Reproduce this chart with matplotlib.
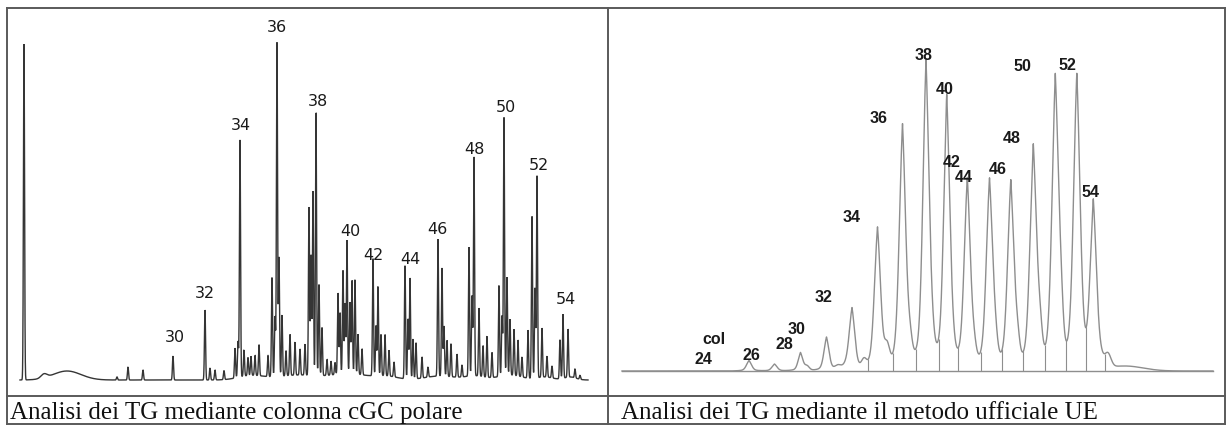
import numpy as np
import matplotlib
matplotlib.use("Agg")
import matplotlib.pyplot as plt
from matplotlib.lines import Line2D

# ------------------------------------------------------------------
# DATA (retention and response in arbitrary units)
# ------------------------------------------------------------------
# Left: TG analysis on polar cGC column - sharp peaks
cgc_rt = [24, 117, 128, 143, 173,
          205, 210, 215, 224,
          235, 238, 240, 244, 248, 251, 255, 259,
          268, 272, 275, 277, 279, 282, 286, 290, 295, 300,
          305, 309, 311, 313, 316, 319, 322, 327, 331, 335,
          338, 340, 343, 345, 347, 350, 352, 355, 358, 362,
          373, 376, 378, 381, 385, 389, 394,
          405, 408, 410, 413, 416, 422, 428,
          438, 442, 444, 447, 451, 457, 462,
          469, 472, 474, 479, 483, 487, 492,
          499, 502, 504, 507, 510, 514, 518, 522,
          528, 532, 535, 537, 542, 547, 552,
          560, 563, 568, 575, 580]
cgc_height = [336, 3, 13, 10, 24,
              70, 12, 10, 9,
              30, 36, 237, 26, 18, 19, 20, 31,
              21, 99, 60, 334, 119, 61, 25, 41, 33, 26,
              31, 168, 120, 184, 263, 91, 48, 16, 14, 12,
              81, 61, 103, 70, 133, 71, 93, 94, 40, 26,
              117, 50, 89, 41, 41, 26, 15,
              113, 60, 101, 40, 36, 21, 10,
              137, 108, 50, 36, 33, 23, 12,
              129, 80, 219, 68, 31, 41, 25,
              91, 60, 258, 98, 56, 46, 36, 20,
              48, 162, 90, 202, 49, 21, 12,
              39, 64, 48, 9, 4]
# broad unresolved humps under the left trace: centre, height, width
cgc_hump_rt = [44, 67, 250, 300, 350, 385, 440, 475, 510, 545, 570]
cgc_hump_h = [4, 9, 4, 5, 6, 4, 4, 4, 5, 3, 3]
cgc_hump_w = [3, 14, 12, 25, 15, 12, 15, 10, 12, 8, 6]
cgc_labels = ["30", "32", "34", "36", "38", "40", "42", "44", "46", "48", "50", "52", "54"]
cgc_label_rt = [175, 205, 241, 277, 318, 350, 373, 410, 437, 474, 506, 539, 566]
cgc_label_resp = [44, 88, 255, 353, 280, 149, 126, 121, 152, 231, 273, 215, 81]

# Right: TG analysis with the official EU method - broad peaks
ue_rt = [749, 774.5, 800.5, 826.5, 852, 877.5, 902.5, 926, 946.7, 967.3,
         989.5, 1010.8, 1033.3, 1055.3, 1076.8, 1093.3]
ue_height = [10.5, 7, 18.5, 34, 63, 144, 247, 310, 274, 192,
             192, 190, 226, 295, 295, 167]
ue_width = [2.6, 2.6, 2.4, 2.6, 2.9, 3.2, 3.3, 3.2, 3.1, 3.2,
            3.3, 3.3, 3.4, 3.4, 3.4, 3.2]
# shoulders / tails: centre, height, width
ue_sh_rt = [807, 838, 846, 864, 887, 910, 932, 952, 974, 995.5, 1017.5, 1040, 1061, 1100, 1108, 1125]
ue_sh_h = [4, 4, 3, 8, 18, 16, 12, 12, 12, 14, 18, 24, 32, 6, 12, 5]
ue_sh_w = [2.2, 3, 3, 2.5, 2.5, 2.2, 2.2, 2.5, 2.2, 2.2, 2.2, 2.2, 2.2, 3, 3, 18]
# valley drop lines
ue_valley_rt = [868, 892.7, 915.5, 938.5, 958.4, 980.5, 1002.3, 1023.3, 1045, 1066, 1085.5, 1105]
ue_labels = ["col", "24", "26", "28", "30", "32", "34", "36", "38", "40", "42", "44",
             "46", "48", "50", "52", "54"]
ue_label_rt = [713.5, 703.3, 751, 784, 796.2, 823.4, 852, 878.5, 923.8, 944.6, 951.7,
               964, 997.8, 1011.4, 1022, 1067.6, 1091]
ue_label_resp = [32, 12.7, 17, 27.7, 43, 74.3, 154.7, 253.7, 317, 282, 209.3,
                 195, 202, 233.7, 305.3, 306.7, 179.5]

captions = ["Analisi dei TG mediante colonna cGC polare",
            "Analisi dei TG mediante il metodo ufficiale UE"]

# ------------------------------------------------------------------
W, H = 1227, 427
fig = plt.figure(figsize=(W / 100, H / 100), dpi=100)
fig.patch.set_facecolor("white")


def rect(x0, y0, x1, y1):
    return [x0 / W, 1 - y1 / H, (x1 - x0) / W, (y1 - y0) / H]


def gauss(x, c, h, s):
    return h * np.exp(-0.5 * ((x - c) / s) ** 2)


def peak(x, c, h, s):
    # chromatographic peak: mostly Gaussian with an exponential skirt
    return h * (0.7 * np.exp(-0.5 * ((x - c) / s) ** 2) + 0.3 * np.exp(-np.abs(x - c) / s))


# ---------------- left panel ----------------
axL = fig.add_axes(rect(8, 10, 607, 396))
axL.set_xlim(8, 607)
axL.set_ylim(-15, 371)
axL.axis("off")
xl = np.linspace(20, 588, 8000)
yl = np.zeros_like(xl)
for c, h in zip(cgc_rt, cgc_height):
    yl += gauss(xl, c, h, 0.55)
for c, h, s in zip(cgc_hump_rt, cgc_hump_h, cgc_hump_w):
    yl += gauss(xl, c, h, s)
axL.plot(xl, yl, color="#353535", lw=1.0, solid_joinstyle="miter")
for t, x, y in zip(cgc_labels, cgc_label_rt, cgc_label_resp):
    axL.text(x, y, t, ha="center", va="center", fontsize=11.5,
             family="DejaVu Sans", color="#1a1a1a")

# ---------------- right panel ----------------
axR = fig.add_axes(rect(609, 10, 1224, 396))
axR.set_xlim(609, 1224)
axR.set_ylim(-24, 362)
axR.axis("off")
xr = np.linspace(622, 1213, 10000)
yr = np.zeros_like(xr)
for c, h, s in zip(ue_rt, ue_height, ue_width):
    yr += peak(xr, c, 0.93 * h, s) + gauss(xr, c, 0.07 * h, 8.5)
for c, h, s in zip(ue_sh_rt, ue_sh_h, ue_sh_w):
    yr += gauss(xr, c, h, s)
grey = "#8e8e8e"
axR.plot(xr, yr, color=grey, lw=1.0)
axR.plot([xr[0], xr[-1]], [0, 0], color=grey, lw=1.0)
yv = np.interp(ue_valley_rt, xr, yr)
axR.vlines(ue_valley_rt, 0, yv, color=grey, lw=0.8)
for t, x, y in zip(ue_labels, ue_label_rt, ue_label_resp):
    axR.text(x, y, t, ha="center", va="center", fontsize=11.5,
             family="Liberation Sans", fontweight="bold", color="#1a1a1a")

# ---------------- table frame and captions ----------------
lc = "#5a5a5a"
for (x0, y0, x1, y1) in [(7, 9, 1225, 9), (7, 425, 1225, 425), (7, 9, 7, 425),
                         (1225, 9, 1225, 425), (608, 9, 608, 425), (7, 397, 1225, 397)]:
    fig.add_artist(Line2D([x0 / W, x1 / W], [1 - y0 / H, 1 - y1 / H],
                          transform=fig.transFigure, color=lc, lw=1.4))
for t, x in zip(captions, [10, 621]):
    fig.text(x / W, 1 - 419 / H, t, ha="left", va="baseline", fontsize=18,
             family="Liberation Serif", color="#111111")

fig.savefig("out.png", dpi=100, facecolor="white")
